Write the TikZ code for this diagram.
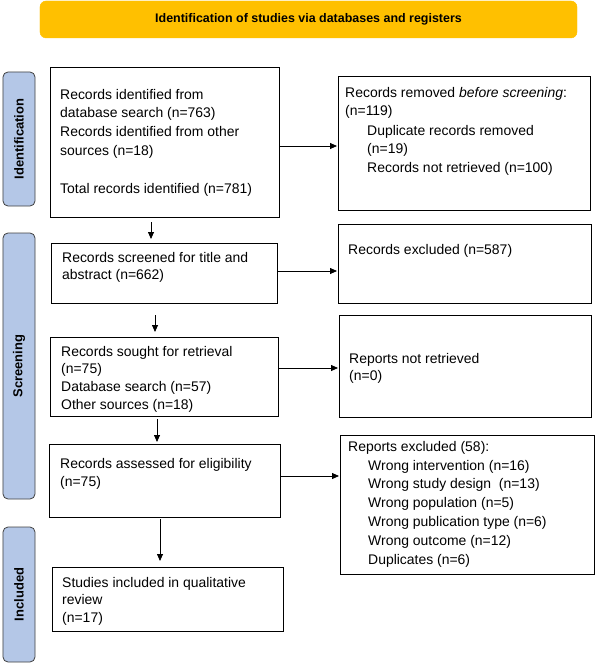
\documentclass[tikz,border=0pt]{standalone}
\usepackage{fontspec}
\setmainfont{Liberation Sans}
\usetikzlibrary{arrows.meta}
\definecolor{bannerfill}{HTML}{FFC000}
\definecolor{sidefill}{HTML}{B4C7E7}
\definecolor{sidedraw}{HTML}{404040}
\begin{document}
\begin{tikzpicture}[x=1bp,y=-1bp,
  box/.style={draw=black, line width=0.8bp, anchor=north west, inner sep=0pt, outer sep=0pt},
  txt/.style={anchor=north west, inner sep=0pt, align=left, font=\fontsize{14}{19}\selectfont},
  txtb/.style={txt, font=\fontsize{14}{18}\selectfont},
  side/.style={draw=sidedraw, fill=sidefill, line width=0.8bp, rounded corners=5bp, inner sep=0pt, minimum width=32bp},
  sidelabel/.style={rotate=90, inner sep=0pt, font=\bfseries\fontsize{13}{15}\selectfont},
  arr/.style={-{Triangle[length=7bp,width=6bp]}, line width=0.8bp}
]
\useasboundingbox (0,0) rectangle (595,663);

% banner
\node[fill=bannerfill, draw=bannerfill, rounded corners=6bp, minimum width=537bp, minimum height=37bp, inner sep=0pt] (title) at (308.5,19.5) {};
\node[font=\bfseries\fontsize{12.5}{14}\selectfont, inner sep=0pt] (titletext) at (308.5,19.5) {Identification of studies via databases and registers};

% side bars
\node[side, minimum height=134bp] (sid) at (19,139) {};
\node[sidelabel] (sidt) at (sid.center) {Identification};
\node[side, minimum height=266bp] (sscr) at (19,366) {};
\node[sidelabel] (sscrt) at (sscr.center) {Screening};
\node[side, minimum height=135bp] (sinc) at (19,594.5) {};
\node[sidelabel] (sinct) at (sinc.center) {Included};

% left boxes
\node[box, minimum width=229bp, minimum height=150bp] (b1) at (50,67) {};
\node[box, minimum width=226bp, minimum height=60bp] (b2) at (51,243) {};
\node[box, minimum width=228bp, minimum height=79bp] (b3) at (50,337) {};
\node[box, minimum width=231bp, minimum height=73bp] (b4) at (49,444) {};
\node[box, minimum width=231bp, minimum height=64bp] (b5) at (52,567) {};

% right boxes
\node[box, minimum width=252bp, minimum height=134bp] (r1) at (338,76) {};
\node[box, minimum width=253bp, minimum height=79bp] (r2) at (338,224) {};
\node[box, minimum width=252bp, minimum height=102bp] (r3) at (339,315) {};
\node[box, minimum width=254bp, minimum height=139bp] (r4) at (340,435) {};

% texts
\node[txt] (t1) at (60,88.7) {Records identified from\\database search (n=763)\\Records identified from other\\sources (n=18)\\[19bp]Total records identified (n=781)};
\node[txtb] (t2) at (62,251.7) {Records screened for title and\\abstract (n=662)};
\node[txtb] (t3) at (61,345.7) {Records sought for retrieval\\(n=75)\\Database search (n=57)\\Other sources (n=18)};
\node[txt] (t4) at (60,457.7) {Records assessed for eligibility\\(n=75)};
\node[txtb] (t5) at (62,576.7) {Studies included in qualitative\\review\\(n=17)};

\node[txt] (r1a) at (345,86.7) {Records removed \textit{before screening}:\\(n=119)};
\node[txt] (r1b) at (367,124.7) {Duplicate records removed\\(n=19)\\Records not retrieved (n=100)};
\node[txt] (r2t) at (348,243.7) {Records excluded (n=587)};
\node[txtb] (r3t) at (349,352.7) {Reports not retrieved\\(n=0)};
\node[txt] (r4a) at (348,440.7) {Reports excluded (58):};
\node[txt] (r4b) at (368,459.7) {Wrong intervention (n=16)\\Wrong study design~ (n=13)\\Wrong population (n=5)\\Wrong publication type (n=6)\\Wrong outcome (n=12)\\Duplicates (n=6)};

% vertical arrows
\coordinate (v1) at (151,0);
\coordinate (v2) at (155,0);
\coordinate (v3) at (157,0);
\coordinate (v4) at (160,0);
\draw[arr, shorten <=5bp, shorten >=4bp] (b1.south -| v1) -- (b2.north -| v1);
\draw[arr, shorten <=12bp, shorten >=5bp] (b2.south -| v2) -- (b3.north -| v2);
\draw[arr, shorten <=3bp, shorten >=2bp] (b3.south -| v3) -- (b4.north -| v3);
\draw[arr, shorten <=2bp, shorten >=6bp] (b4.south -| v4) -- (b5.north -| v4);

% horizontal arrows
\coordinate (h1) at (0,146);
\coordinate (h2) at (0,271);
\coordinate (h3) at (0,368);
\coordinate (h4) at (0,476);
\draw[arr, shorten >=1bp] (b1.east |- h1) -- (r1.west |- h1);
\draw[arr, shorten >=1bp] (b2.east |- h2) -- (r2.west |- h2);
\draw[arr, shorten >=1bp] (b3.east |- h3) -- (r3.west |- h3);
\draw[arr, shorten >=1bp] (b4.east |- h4) -- (r4.west |- h4);
\end{tikzpicture}
\end{document}
